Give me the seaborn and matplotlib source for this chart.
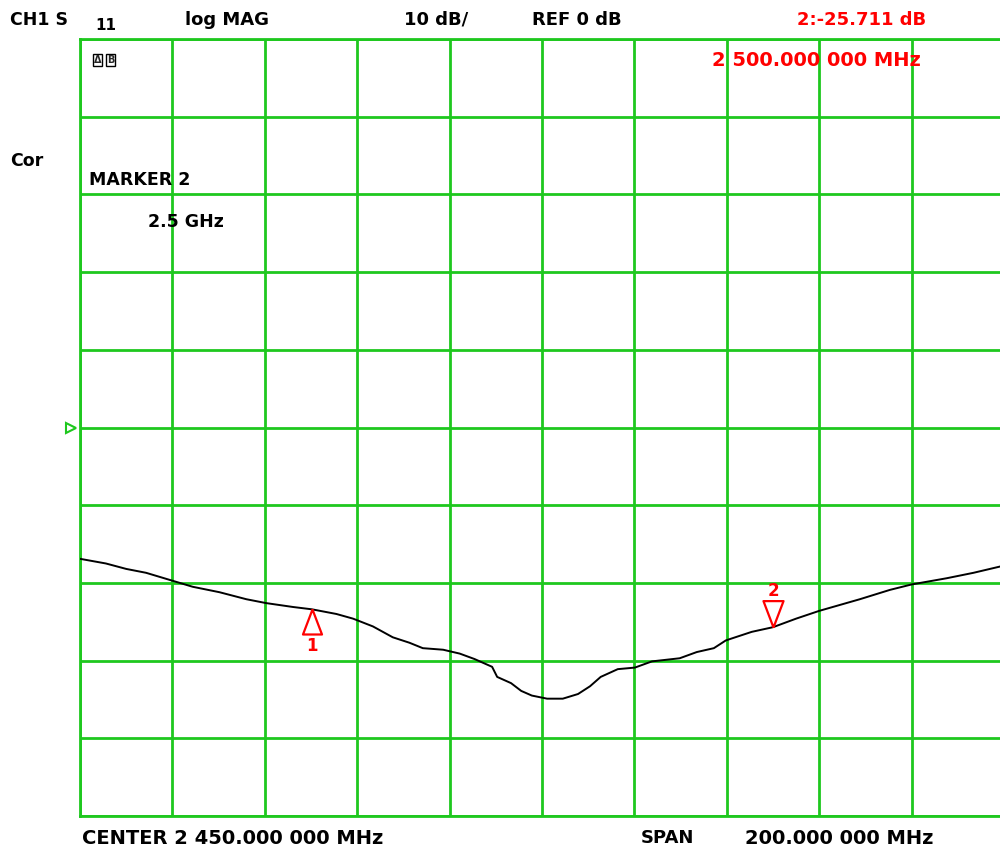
import numpy as np
import pandas as pd
import matplotlib
matplotlib.use("Agg")
import matplotlib.pyplot as plt
import seaborn as sns

freq_mhz = [2350, 2355.6, 2360, 2364.3, 2369.9, 2374.4, 2380.2, 2386, 2390.3, 2396.1,
            2400.2, 2405.5, 2409.1, 2413.4, 2417.7, 2421.3, 2424.2, 2428.6, 2432.2, 2435.4,
            2439.2, 2440.3, 2443.3, 2445.5, 2447.8, 2451.1, 2454.5, 2457.8, 2460.4, 2462.7,
            2466.4, 2470.1, 2473.8, 2479.8, 2483.5, 2487.2, 2489.8, 2495.4, 2500, 2505,
            2510, 2518.8, 2525.3, 2530, 2537.6, 2543.4, 2549.1, 2550]
s11_db = [-16.9, -17.5, -18.2, -18.7, -19.7, -20.5, -21.2, -22.1, -22.6, -23.1,
          -23.4, -24.0, -24.6, -25.6, -27.0, -27.7, -28.4, -28.6, -29.1, -29.8,
          -30.8, -32.1, -32.9, -33.9, -34.5, -34.9, -34.9, -34.3, -33.3, -32.1,
          -31.1, -30.9, -30.1, -29.7, -28.9, -28.4, -27.4, -26.3, -25.7, -24.6,
          -23.6, -22.1, -20.9, -20.2, -19.4, -18.7, -17.9, -17.8]
marker_ids = ["1", "2"]
marker_freq = [2400.2, 2500.0]
marker_db = [-23.4, -25.711]
center_mhz = 2450
span_mhz = 200
ref_db = 0
scale_db = 10

header_texts = ["CH1 S", "11", "log MAG", "10 dB/", "REF 0 dB"]
marker_readout = "2:-25.711 dB"
marker_freq_text = "2 500.000 000 MHz"
footer_center = "CENTER 2 450.000 000 MHz"
footer_span_label = "SPAN"
footer_span = "200.000 000 MHz"

df = pd.DataFrame({"freq": freq_mhz, "s11": s11_db})

sns.set_theme(style="white")
plt.rcParams["font.family"] = ["DejaVu Sans"]

W, H = 1000, 857
fig = plt.figure(figsize=(W / 100, H / 100), dpi=100)
fig.patch.set_facecolor("white")
ax = fig.add_axes([80 / W, 1 - 816 / H, 924 / W, (816 - 39) / H])
ax.set_facecolor("white")

green = "#1ec81e"
fmin, fmax = center_mhz - span_mhz / 2, center_mhz + span_mhz / 2
ax.set_xlim(fmin, fmax)
ax.set_ylim(ref_db - 5 * scale_db, ref_db + 5 * scale_db)
ax.set_xticks(np.arange(fmin, fmax + 1, span_mhz / 10))
ax.set_yticks(np.arange(ref_db - 5 * scale_db, ref_db + 5 * scale_db + 1, scale_db))
ax.grid(True, color=green, lw=2)
ax.tick_params(length=0, labelbottom=False, labelleft=False)
for s in ax.spines.values():
    s.set_color(green)
    s.set_linewidth(2)
    s.set_visible(True)

sns.lineplot(data=df, x="freq", y="s11", color="black", lw=1.4, ax=ax, zorder=3)
ax.set_xlabel("")
ax.set_ylabel("")

# marker triangles (tip on trace)
up_tri = [(0, 0), (-0.38, -1), (0.38, -1), (0, 0)]
down_tri = [(0, 0), (-0.38, 1), (0.38, 1), (0, 0)]
ax.plot([marker_freq[0]], [marker_db[0]], marker=up_tri, ms=36, mfc="none",
        mec="red", mew=1.6, ls="none", zorder=4)
ax.plot([marker_freq[1]], [marker_db[1]], marker=down_tri, ms=38, mfc="none",
        mec="red", mew=1.6, ls="none", zorder=4)
ax.annotate(marker_ids[0], (marker_freq[0], marker_db[0]), xytext=(0, -37),
            textcoords="offset pixels", ha="center", va="center", color="red",
            fontsize=12, fontweight="bold")
ax.annotate(marker_ids[1], (marker_freq[1], marker_db[1]), xytext=(0, 36),
            textcoords="offset pixels", ha="center", va="center", color="red",
            fontsize=12, fontweight="bold")

# reference level indicator
ax.plot([-0.01], [ref_db], marker=">", ms=7, mfc="none", mec=green, mew=1.5,
        transform=ax.get_yaxis_transform(), clip_on=False, ls="none")


def ftext(x, y, s, color="black", size=12.5, **kw):
    fig.text(x / W, 1 - y / H, s, color=color, fontsize=size, fontweight="bold",
             va="center", ha="left", **kw)


ftext(10, 20, header_texts[0])
ftext(95, 26, header_texts[1], size=11)
ftext(185, 20, header_texts[2], size=13)
ftext(404, 20, header_texts[3], size=13)
ftext(532, 20, header_texts[4], size=13)
ftext(797, 20, marker_readout, color="red", size=13)
ftext(712, 61, marker_freq_text, color="red", size=14)
ftext(10, 161, "Cor")
ftext(89, 180, "MARKER 2")
ftext(148, 222, "2.5 GHz")
ftext(82, 838, footer_center, size=14)
ftext(641, 838, footer_span_label, size=13)
ftext(745, 838, footer_span, size=14)

# small status icon
fig.text(94 / W, 1 - 60 / H, "Δ", fontsize=7, fontweight="bold", va="center", ha="left",
         bbox=dict(boxstyle="square,pad=0.1", fc="none", ec="black", lw=1))
fig.text(107 / W, 1 - 60 / H, "B", fontsize=7, fontweight="bold", va="center", ha="left",
         bbox=dict(boxstyle="square,pad=0.1", fc="none", ec="black", lw=1))

fig.savefig("out.png", dpi=100, facecolor="white")
